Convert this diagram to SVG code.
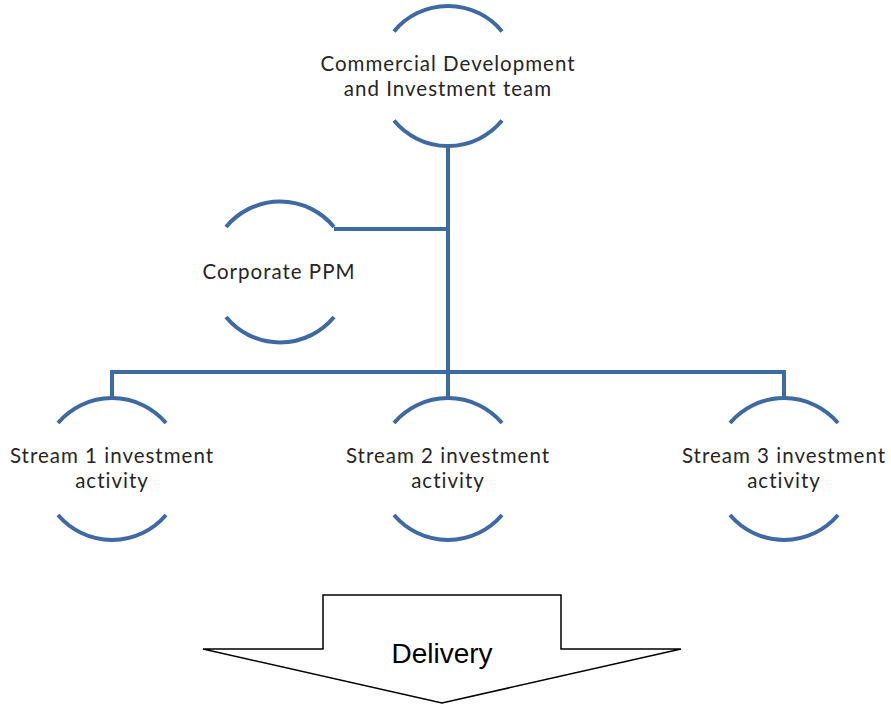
<svg xmlns="http://www.w3.org/2000/svg" width="891" height="704" viewBox="0 0 891 704">
<style>
.arc{fill:none;stroke:#3F69A3;stroke-width:4;}
.con{fill:none;stroke:#3F69A3;stroke-width:4;}
.lbl{font-family:Lato,"Open Sans",sans-serif;font-size:20.5px;letter-spacing:1px;fill:#262626;text-anchor:middle;}
.dl{font-family:"Liberation Sans",Arial,sans-serif;font-size:28px;fill:#000;text-anchor:middle;}
</style>
<rect width="891" height="704" fill="#fff"/>
<g id="connectors">
<path class="con" d="M448 146 V399"/>
<path class="con" d="M334 229 H448"/>
<path class="con" d="M112 399 V372 H784 V399"/>
</g>
<g id="node-cdi">
<path class="arc" d="M394 31.4 A70 70 0 0 1 502 31.4"/>
<path class="arc" d="M394 120.6 A70 70 0 0 0 502 120.6"/>
<text class="lbl"><tspan x="448" y="71">Commercial Development</tspan><tspan x="448" y="96">and Investment team</tspan></text>
</g>
<g id="node-ppm">
<path class="arc" d="M226 227 A70 70 0 0 1 334 227"/>
<path class="arc" d="M226 317 A70 70 0 0 0 334 317"/>
<text class="lbl" x="279" y="279">Corporate PPM</text>
</g>
<g id="node-s1">
<path class="arc" d="M58 423 A71 71 0 0 1 166 423"/>
<path class="arc" d="M58 515 A71 71 0 0 0 166 515"/>
<text class="lbl"><tspan x="112" y="463">Stream 1 investment</tspan><tspan x="112" y="488">activity</tspan></text>
</g>
<g id="node-s2">
<path class="arc" d="M394 423 A71 71 0 0 1 502 423"/>
<path class="arc" d="M394 515 A71 71 0 0 0 502 515"/>
<text class="lbl"><tspan x="448" y="463">Stream 2 investment</tspan><tspan x="448" y="488">activity</tspan></text>
</g>
<g id="node-s3">
<path class="arc" d="M730 423 A71 71 0 0 1 838 423"/>
<path class="arc" d="M730 515 A71 71 0 0 0 838 515"/>
<text class="lbl"><tspan x="784" y="463">Stream 3 investment</tspan><tspan x="784" y="488">activity</tspan></text>
</g>
<g id="delivery">
<path d="M323 595 H561 V649 H681 L442 703 L203 649 H323 Z" fill="#fff" stroke="#000" stroke-width="1.5"/>
<text class="dl" x="442" y="663">Delivery</text>
</g>
</svg>
